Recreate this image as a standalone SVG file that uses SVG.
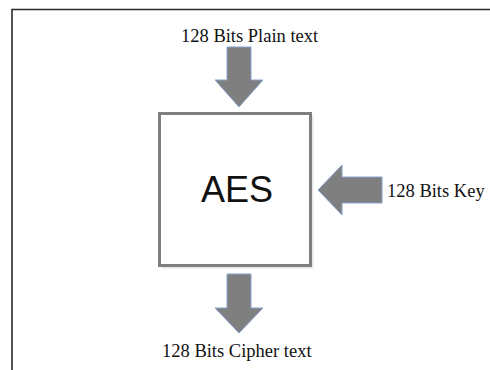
<svg xmlns="http://www.w3.org/2000/svg" width="490" height="370" viewBox="0 0 490 370">
  <style>
    .lbl { font-family: "Liberation Serif", "Times New Roman", serif; font-size: 18.5px; fill: #111; }
    .aes { font-family: "Liberation Sans", Arial, sans-serif; font-size: 36px; fill: #111; }
    .arrow { fill: #7f7f7f; stroke: #86a4cc; stroke-width: 1; stroke-linejoin: miter; }
    .frame { fill: none; stroke: #2a2a2a; stroke-width: 1.6; }
  </style>
  <rect x="0" y="0" width="490" height="370" fill="#ffffff"/>
  <path class="frame" d="M12,370 V9.5 H490"/>

  <g id="plain-text">
    <text class="lbl" x="181" y="42">128 Bits Plain text</text>
  </g>

  <g id="aes">
    <rect x="161.5" y="115.5" width="152" height="153" fill="#d8d8d8" opacity="0.6"/>
    <rect x="159.5" y="113.5" width="151" height="152" fill="#ffffff" stroke="#808080" stroke-width="3"/>
    <text class="aes" x="237" y="202" text-anchor="middle">AES</text>
  </g>

  <g id="key">
    <text class="lbl" x="387" y="197">128 Bits Key</text>
  </g>

  <g id="cipher-text">
    <text class="lbl" x="162" y="357">128 Bits Cipher text</text>
  </g>

  <g id="connectors">
    <polygon class="arrow" points="227,47 251,47 251,80 263,80 239,107 215,80 227,80"/>
    <polygon class="arrow" points="382,177 382,203 342,203 342,215 318,190 342,165 342,177"/>
    <polygon class="arrow" points="227,274 251,274 251,308 263,308 239,333 215,308 227,308"/>
  </g>
</svg>
